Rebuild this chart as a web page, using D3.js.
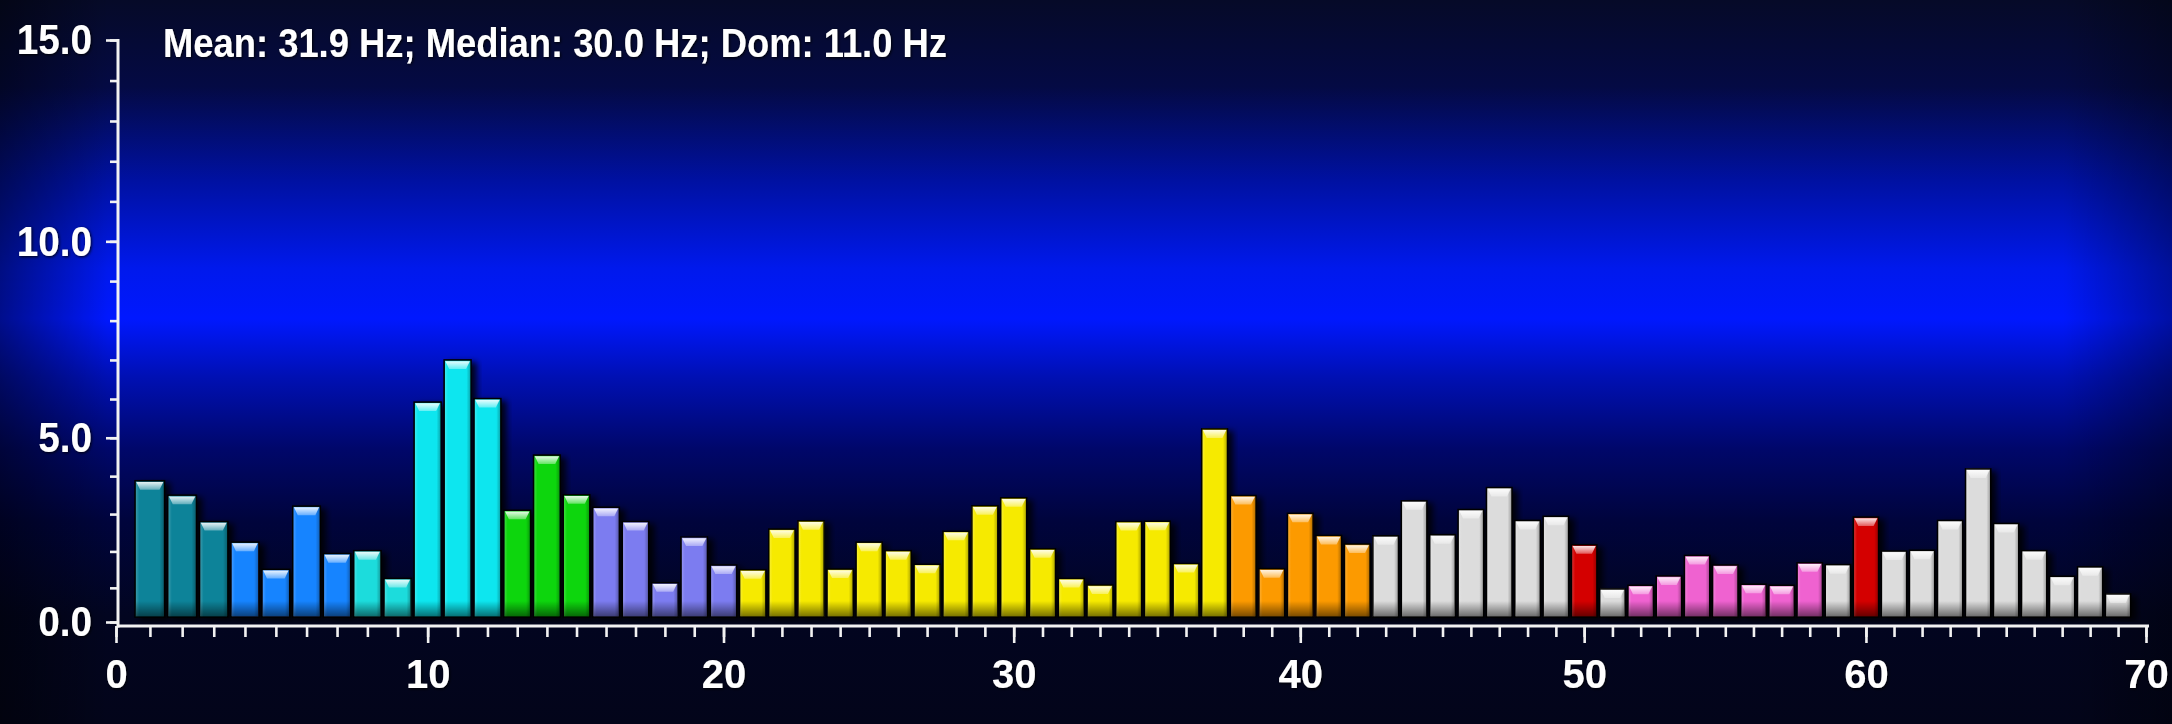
<!DOCTYPE html>
<html><head><meta charset="utf-8">
<script src="https://cdn.jsdelivr.net/npm/d3@7"></script>
<style>html,body{margin:0;padding:0;background:#03051a;overflow:hidden}</style>
</head><body><svg id="c" width="2172" height="724"></svg>
<script>
// ---- data ----
const freqs = [1,2,3,4,5,6,7,8,9,10,11,12,13,14,15,16,17,18,19,20,21,22,23,24,25,26,27,28,29,30,31,32,33,34,35,36,37,38,39,40,41,42,43,44,45,46,47,48,49,50,51,52,53,54,55,56,57,58,59,60,61,62,63,64,65,66,67,68,69];
const amplitudes = [3.88,3.50,2.80,2.25,1.51,3.21,1.94,2.02,1.26,5.92,
                    7.00,6.01,3.10,4.55,3.51,3.18,2.80,1.14,2.39,1.63,
                    1.50,2.60,2.82,1.52,2.25,2.02,1.65,2.54,3.22,3.43,
                    2.07,1.26,1.08,2.80,2.81,1.67,5.23,3.49,1.53,3.02,
                    2.43,2.20,2.42,3.35,2.45,3.12,3.70,2.83,2.94,2.18,
                    0.97,1.07,1.33,1.89,1.63,1.10,1.07,1.69,1.64,2.92,
                    2.01,2.03,2.83,4.19,2.75,2.02,1.32,1.58,0.83];
const bands = ["teal","teal","teal","blue","blue","blue","blue","aqua","aqua","cyan",
               "cyan","cyan","green","green","green","lavender","lavender","lavender","lavender","lavender",
               "yellow","yellow","yellow","yellow","yellow","yellow","yellow","yellow","yellow","yellow",
               "yellow","yellow","yellow","yellow","yellow","yellow","yellow","orange","orange","orange",
               "orange","orange","gray","gray","gray","gray","gray","gray","gray","red",
               "gray","pink","pink","pink","pink","pink","pink","pink","gray","red",
               "gray","gray","gray","gray","gray","gray","gray","gray","gray"];
const bandColors = {teal:"#0b8399", blue:"#1784ff", aqua:"#1fdcdc", cyan:"#08e6ef", green:"#07d60c",
                    lavender:"#7c7cf0", yellow:"#f6ea00", orange:"#fc9a00", gray:"#dcdcdc",
                    red:"#d40000", pink:"#ef62d0"};
const xTickValues = [0,10,20,30,40,50,60,70];
const yTickValues = [0,5,10,15];
const titleText = "Mean: 31.9 Hz; Median: 30.0 Hz; Dom: 11.0 Hz";

// ---- chart ----
const W = 2172, H = 724;
const svg = d3.select("#c");
const defs = svg.append("defs");

const bg = defs.append("linearGradient").attr("id","bg").attr("x1",0).attr("y1",0).attr("x2",0).attr("y2",1);
[[0,"#060a28"],[0.12,"#040a44"],[0.25,"#0011a2"],[0.37,"#0019ec"],[0.44,"#0018ff"],[0.52,"#0010b4"],
 [0.62,"#00076a"],[0.72,"#00043c"],[0.85,"#020520"],[1,"#03051a"]]
 .forEach(([o,c])=>bg.append("stop").attr("offset",o).attr("stop-color",c));
const vig = defs.append("linearGradient").attr("id","vig").attr("x1",0).attr("y1",0).attr("x2",1).attr("y2",0);
[[0,0.45],[0.05,0.0],[0.95,0.0],[1,0.35]].forEach(([o,a])=>vig.append("stop").attr("offset",o).attr("stop-color","#000").attr("stop-opacity",a));

const side = defs.append("linearGradient").attr("id","side").attr("x1",0).attr("y1",0).attr("x2",1).attr("y2",0);
[[0,"#fff",0.18],[0.12,"#fff",0.0],[0.85,"#000",0.0],[1,"#000",0.25]].forEach(([o,c,a])=>side.append("stop").attr("offset",o).attr("stop-color",c).attr("stop-opacity",a));
const bottom = defs.append("linearGradient").attr("id","bottom").attr("x1",0).attr("y1",0).attr("x2",0).attr("y2",1);
[[0,0],[1,0.5]].forEach(([o,a])=>bottom.append("stop").attr("offset",o).attr("stop-color","#000").attr("stop-opacity",a));
const hi = defs.append("linearGradient").attr("id","hi").attr("x1",0).attr("y1",0).attr("x2",0).attr("y2",1);
[[0,0.9],[1,0.35]].forEach(([o,a])=>hi.append("stop").attr("offset",o).attr("stop-color","#fff").attr("stop-opacity",a));

const sh = defs.append("filter").attr("id","shadow").attr("x","-20%").attr("y","-10%").attr("width","160%").attr("height","130%");
sh.append("feDropShadow").attr("dx",5).attr("dy",3).attr("stdDeviation",3).attr("flood-color","#000").attr("flood-opacity",0.85);
const ts = defs.append("filter").attr("id","tshadow").attr("x","-10%").attr("y","-20%").attr("width","130%").attr("height","150%");
ts.append("feDropShadow").attr("dx",1).attr("dy",1).attr("stdDeviation",1.5).attr("flood-color","#000").attr("flood-opacity",0.9);

svg.append("rect").attr("width",W).attr("height",H).attr("fill","url(#bg)");
svg.append("rect").attr("width",W).attr("height",H).attr("fill","url(#vig)");

const x = d3.scalePow().exponent(0.963).domain([0,70]).range([116,2146]);
const y = d3.scalePow().exponent(1.047).domain([0,15]).range([622,40]);
const axisY = 626, baseY = 617, yAxisX = 118;

const data = freqs.map((f,i)=>({f, v:amplitudes[i], b:bands[i]}));

const bars = svg.append("g").selectAll("g").data(data).join("g");
bars.each(function(d){
  const s = d3.select(this);
  const x0 = x(d.f-0.45), x1 = x(d.f+0.45), w = x1-x0, y0 = y(d.v), h = baseY-y0;
  s.append("rect").attr("x",x0).attr("y",y0).attr("width",w).attr("height",h)
    .attr("fill",bandColors[d.b]).attr("stroke","#060606").attr("stroke-width",1.6).attr("filter","url(#shadow)");
  s.append("rect").attr("x",x0+0.8).attr("y",y0+0.8).attr("width",w-1.6).attr("height",h-1.6).attr("fill","url(#side)");
  const bh = Math.min(16,h-2);
  s.append("rect").attr("x",x0+0.8).attr("y",baseY-bh).attr("width",w-1.6).attr("height",bh-0.8).attr("fill","url(#bottom)");
  s.append("polygon")
    .attr("points",[[x0+1.2,y0+1.2],[x1-1.2,y0+1.2],[x1-5,y0+9],[x0+5,y0+9]].map(p=>p.join(",")).join(" "))
    .attr("fill","url(#hi)");
});

// x axis
const gx = svg.append("g").attr("transform",`translate(0,${axisY})`);
gx.call(d3.axisBottom(x).tickValues(d3.range(0,71,1)).tickSize(11).tickFormat(""));
gx.select(".domain").remove();
const gxMaj = svg.append("g").attr("transform",`translate(0,${axisY})`);
gxMaj.call(d3.axisBottom(x).tickValues(xTickValues).tickSize(17).tickPadding(17).tickFormat(d3.format("d")));
gxMaj.select(".domain").remove();
[gx,gxMaj].forEach(g=>g.selectAll(".tick line").attr("stroke","#f2f2f2").attr("stroke-width",2.6));
gxMaj.selectAll(".tick text").attr("fill","#fff").attr("font-family","'Liberation Sans',Arial,sans-serif")
  .attr("font-weight","bold").attr("font-size",40).attr("filter","url(#tshadow)");
svg.append("line").attr("x1",yAxisX-1).attr("x2",x(70)+3).attr("y1",axisY).attr("y2",axisY)
  .attr("stroke","#f2f2f2").attr("stroke-width",3);

// y axis
const gy = svg.append("g").attr("transform",`translate(${yAxisX},0)`);
gy.call(d3.axisLeft(y).tickValues(d3.range(0,16,1)).tickSize(8).tickFormat(""));
gy.select(".domain").remove();
const gyMaj = svg.append("g").attr("transform",`translate(${yAxisX},0)`);
gyMaj.call(d3.axisLeft(y).tickValues(yTickValues).tickSize(12).tickPadding(14).tickFormat(d3.format(".1f")));
gyMaj.select(".domain").remove();
[gy,gyMaj].forEach(g=>g.selectAll(".tick line").attr("stroke","#f2f2f2").attr("stroke-width",2.6));
gyMaj.selectAll(".tick text").attr("fill","#fff").attr("font-family","'Liberation Sans',Arial,sans-serif")
  .attr("font-weight","bold").attr("font-size",43).attr("filter","url(#tshadow)")
  .each(function(){ const L=this.getComputedTextLength(); d3.select(this).attr("textLength",L*0.9).attr("lengthAdjust","spacingAndGlyphs"); });
svg.append("line").attr("x1",yAxisX).attr("x2",yAxisX).attr("y1",y(15)-1).attr("y2",axisY+1.5)
  .attr("stroke","#f2f2f2").attr("stroke-width",3);

// title
svg.append("text").attr("x",163).attr("y",57).text(titleText)
  .attr("fill","#fff").attr("font-family","'Liberation Sans',Arial,sans-serif").attr("font-weight","bold")
  .attr("font-size",41).attr("textLength",784).attr("lengthAdjust","spacingAndGlyphs").attr("filter","url(#tshadow)");
</script></body></html>
